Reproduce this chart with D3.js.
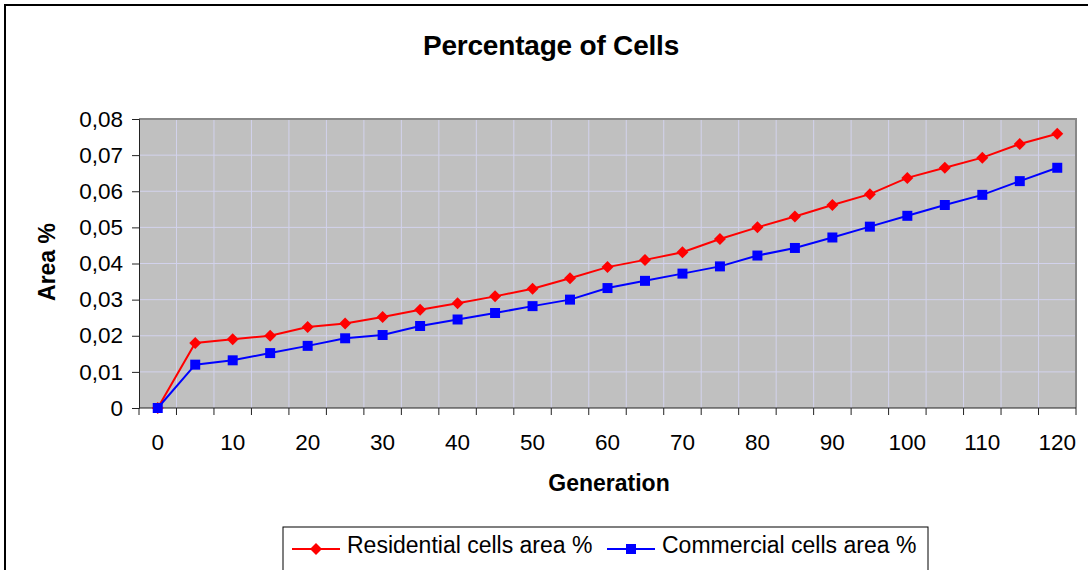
<!DOCTYPE html>
<html>
<head>
<meta charset="utf-8">
<script src="https://cdn.jsdelivr.net/npm/d3@7"></script>
<style>
  body { margin: 0; background: #fff; }
  svg { display: block; font-family: "Liberation Sans", Arial, sans-serif; }
</style>
</head>
<body>
<svg id="chart" width="1088" height="570"></svg>
<script>
// generations (x categories)
const generations = [0, 5, 10, 15, 20, 25, 30, 35, 40, 45, 50, 55, 60, 65, 70, 75, 80, 85, 90, 95, 100, 105, 110, 115, 120];

const residential = [0, 0.018, 0.019, 0.020, 0.0224, 0.0234, 0.0252, 0.0272, 0.029, 0.0309, 0.033, 0.0359, 0.039,
  0.041, 0.0431, 0.0468, 0.050, 0.053, 0.0562, 0.0592, 0.0637, 0.0665, 0.0693, 0.0731, 0.0759];

const commercial = [0, 0.012, 0.0132, 0.0152, 0.0172, 0.0193, 0.0202, 0.0227, 0.0245, 0.0263, 0.0282, 0.030, 0.0332,
  0.0352, 0.0372, 0.0392, 0.0422, 0.0443, 0.0472, 0.0502, 0.0532, 0.0562, 0.059, 0.0628, 0.0665];

const xTickLabels = [0, 10, 20, 30, 40, 50, 60, 70, 80, 90, 100, 110, 120];
const yTicks = [0, 0.01, 0.02, 0.03, 0.04, 0.05, 0.06, 0.07, 0.08];
const yTickLabels = ['0', '0,01', '0,02', '0,03', '0,04', '0,05', '0,06', '0,07', '0,08'];

const seriesNames = ['Residential cells area %', 'Commercial cells area %'];

const plotL = 139, plotR = 1076, plotT = 119, plotB = 408;

const svg = d3.select('#chart');

// outer chart frame
svg.append('rect')
   .attr('x', 5).attr('y', 5)
   .attr('width', 1100).attr('height', 620)
   .attr('fill', '#fff')
   .attr('stroke', '#000')
   .attr('stroke-width', 2);

svg.append('text')
   .attr('x', 551).attr('y', 55)
   .attr('text-anchor', 'middle')
   .attr('font-size', 28)
   .attr('font-weight', 'bold')
   .attr('letter-spacing', -0.2)
   .text('Percentage of Cells');

const x = d3.scaleBand()
  .domain(generations)
  .range([plotL, plotR])
  .padding(0);

const y = d3.scaleLinear()
  .domain([0, 0.08])
  .range([plotB, plotT]);

const cx = (d) => x(d) + x.bandwidth() / 2;

// plot area
svg.append('rect')
   .attr('x', plotL).attr('y', plotT)
   .attr('width', plotR - plotL).attr('height', plotB - plotT)
   .attr('fill', '#c0c0c0');

// gridlines
const edges = generations.map((d) => x(d)).concat([plotR]);
svg.append('g')
   .selectAll('line')
   .data(edges.slice(1, -1))
   .enter()
   .append('line')
   .attr('x1', (d) => d).attr('x2', (d) => d)
   .attr('y1', plotT).attr('y2', plotB)
   .attr('stroke', '#d2d2ec')
   .attr('stroke-width', 1);

svg.append('g')
   .selectAll('line')
   .data(yTicks.slice(1, -1))
   .enter()
   .append('line')
   .attr('x1', plotL).attr('x2', plotR)
   .attr('y1', (d) => y(d)).attr('y2', (d) => y(d))
   .attr('stroke', '#d2d2ec')
   .attr('stroke-width', 1);

// top + right border of plot
svg.append('path')
   .attr('d', `M${plotL},${plotT}H${plotR}V${plotB}`)
   .attr('fill', 'none')
   .attr('stroke', '#888')
   .attr('stroke-width', 2);

// y axis
const yAxis = d3.axisLeft(y)
  .tickValues(yTicks)
  .tickFormat((d, i) => yTickLabels[i])
  .tickSize(7)
  .tickPadding(9);

const gy = svg.append('g')
  .attr('transform', `translate(${plotL},0)`)
  .call(yAxis);
gy.attr('font-family', null).attr('font-size', 22.5);
gy.selectAll('text').attr('fill', '#000');
gy.selectAll('line, path').attr('stroke', '#222');

// x axis: ticks at category edges, labels every other category
const gx = svg.append('g').attr('transform', `translate(0,${plotB})`);
gx.append('line')
  .attr('x1', plotL).attr('x2', plotR)
  .attr('stroke', '#222');
gx.selectAll('.tk')
  .data(edges)
  .enter()
  .append('line')
  .attr('class', 'tk')
  .attr('x1', (d) => d).attr('x2', (d) => d)
  .attr('y1', 0).attr('y2', 7)
  .attr('stroke', '#222');
gx.selectAll('text')
  .data(xTickLabels)
  .enter()
  .append('text')
  .attr('x', (d) => cx(d))
  .attr('y', 42)
  .attr('text-anchor', 'middle')
  .attr('font-size', 22.5)
  .text((d) => d);

// axis titles
svg.append('text')
   .attr('x', 609).attr('y', 491)
   .attr('text-anchor', 'middle')
   .attr('font-size', 23)
   .attr('font-weight', 'bold')
   .text('Generation');

svg.append('text')
   .attr('transform', 'translate(55,262) rotate(-90)')
   .attr('text-anchor', 'middle')
   .attr('font-size', 23)
   .attr('font-weight', 'bold')
   .text('Area %');

// series
const line = d3.line()
  .x((d, i) => cx(generations[i]))
  .y((d) => y(d));

svg.append('path')
   .datum(residential)
   .attr('d', line)
   .attr('fill', 'none')
   .attr('stroke', '#ff0000')
   .attr('stroke-width', 2);

svg.append('path')
   .datum(commercial)
   .attr('d', line)
   .attr('fill', 'none')
   .attr('stroke', '#0000ff')
   .attr('stroke-width', 2);

// diamond = square rotated 45deg
const diamond = d3.symbol().type(d3.symbolSquare).size(72);
const square = d3.symbol().type(d3.symbolSquare).size(100);

svg.append('g')
   .selectAll('path')
   .data(residential)
   .enter()
   .append('path')
   .attr('d', diamond)
   .attr('transform', (d, i) => `translate(${cx(generations[i])},${y(d)}) rotate(45)`)
   .attr('fill', '#ff0000');

svg.append('g')
   .selectAll('path')
   .data(commercial)
   .enter()
   .append('path')
   .attr('d', square)
   .attr('transform', (d, i) => `translate(${cx(generations[i])},${y(d)})`)
   .attr('fill', '#0000ff');

// legend
const legend = svg.append('g');
legend.append('rect')
      .attr('x', 283).attr('y', 527)
      .attr('width', 645).attr('height', 70)
      .attr('fill', '#fff')
      .attr('stroke', '#000')
      .attr('stroke-width', 1);

const legendItems = [
  { name: seriesNames[0], color: '#ff0000', sym: diamond, rot: 45, x0: 292 },
  { name: seriesNames[1], color: '#0000ff', sym: square, rot: 0, x0: 607 }
];

const li = legend.selectAll('.li')
  .data(legendItems)
  .enter()
  .append('g')
  .attr('class', 'li')
  .attr('transform', (d) => `translate(${d.x0},549)`);

li.append('line')
  .attr('x1', 0).attr('x2', 48)
  .attr('stroke', (d) => d.color)
  .attr('stroke-width', 2);
li.append('path')
  .attr('d', (d) => d.sym())
  .attr('transform', (d) => `translate(24,0) rotate(${d.rot})`)
  .attr('fill', (d) => d.color);
li.append('text')
  .attr('x', 55)
  .attr('y', 4)
  .attr('font-size', 23)
  .text((d) => d.name);
</script>
</body>
</html>
